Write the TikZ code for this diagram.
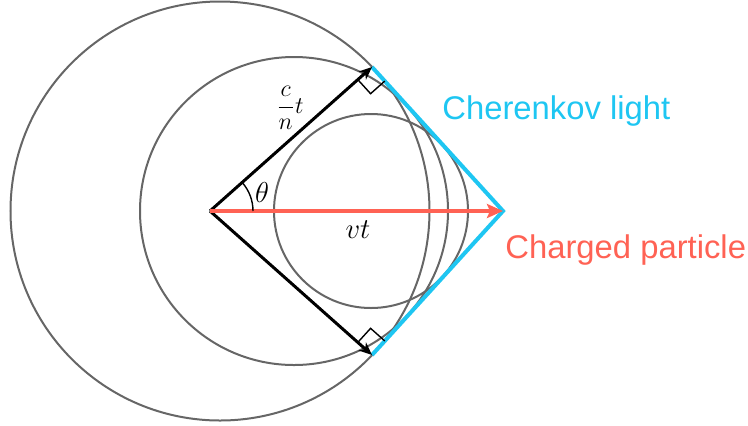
\documentclass[tikz,border=0pt]{standalone}
\usepackage{amsmath,amssymb}
\usepackage{fontspec}
\newfontfamily\labelfont{Liberation Sans}
\usepackage{tikz}
\usetikzlibrary{arrows.meta,calc}
\usepackage{xcolor}
\definecolor{wavegray}{HTML}{666666}
\definecolor{cherenkov}{HTML}{1EC6F2}
\definecolor{particle}{HTML}{FF6254}

\begin{document}
\begin{tikzpicture}[x=0.5pt,y=0.5pt,>={Stealth[length=6.5pt,width=5.5pt]},
  wave/.style={draw=wavegray,line width=1pt},
  ray/.style={->,line width=1.5pt}]
\useasboundingbox (-210,-214) rectangle (538,211);
\coordinate (O) at (0,0);
\coordinate (A) at (293,0);
\coordinate (P1) at (162,144);
\coordinate (P2) at (162,-144);
\draw[wave] (10,0) circle[radius=209.5];
\draw[wave] (84,0) circle[radius=154];
\draw[wave] (161,0) circle[radius=97];
\draw[cherenkov,line width=2pt] (P1) -- (A) -- (P2);
\draw[line width=0.7pt] ($(P1)!9.5pt!(O)$) -- ($(P1)!9.5pt!(O)+(P1)!9.5pt!(A)-(P1)$) -- ($(P1)!9.5pt!(A)$);
\draw[line width=0.7pt] ($(P2)!9.5pt!(O)$) -- ($(P2)!9.5pt!(O)+(P2)!9.5pt!(A)-(P2)$) -- ($(P2)!9.5pt!(A)$);
\draw[ray] (O) -- (P1);
\draw[ray] (O) -- (P2);
\draw[particle,line width=2pt,-{Stealth[length=8pt,width=7pt,inset=1.5pt]}] (O) -- (A);
\draw[line width=0.7pt] (O) ++(43,0) arc[start angle=0,end angle=41.6,radius=43];
\node[font=\fontsize{12.5}{14}\selectfont] (ct) at (80,103) {$\dfrac{c}{n}t$};
\node[font=\fontsize{14.4}{16}\selectfont] (th) at (52,19) {$\theta$};
\node[font=\fontsize{14.4}{16}\selectfont] (vt) at (148,-19) {$vt$};
\node[anchor=base west,inner sep=0pt,text=cherenkov,font=\labelfont\fontsize{16.4}{18}\selectfont] (light) at (232,92) {Cherenkov light};
\node[anchor=base west,inner sep=0pt,text=particle,font=\labelfont\fontsize{16.4}{18}\selectfont] (charge) at (295,-47) {Charged particle};
\end{tikzpicture}
\end{document}
